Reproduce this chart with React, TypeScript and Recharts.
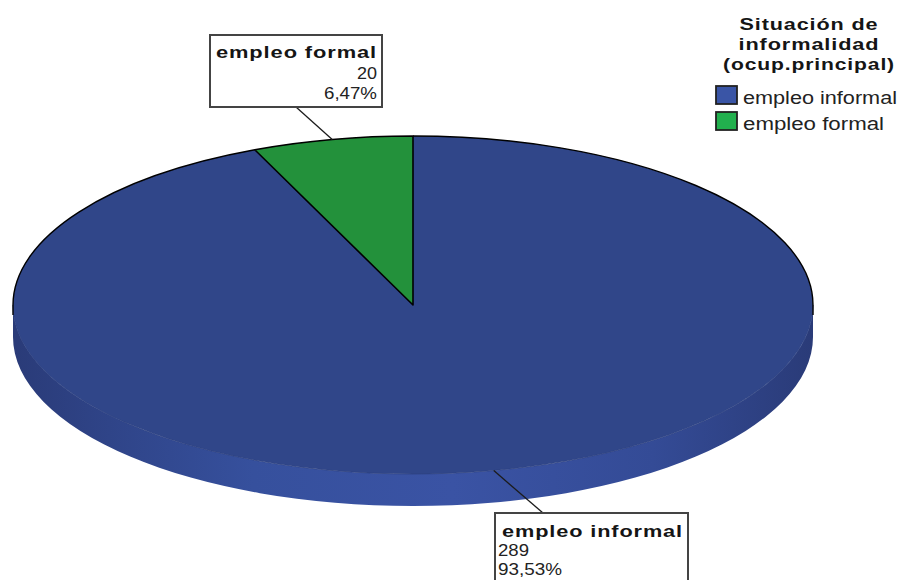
import { Legend, Pie, PieChart } from 'recharts';

const categories = ['empleo informal', 'empleo formal'];
const counts = [289, 20];
const percents = ['93,53%', '6,47%'];
const legendTitle = ['Situación de', 'informalidad', '(ocup.principal)'];

const topColors = ['#304689', '#23913b'];
const legendColors = ['#3a55a6', '#22b04e'];
const data = categories.map((name, i) => ({ name, value: counts[i] }));

const RY = 169;
const DEPTH = 32;
const RAD = Math.PI / 180;
const FONT = '"Liberation Sans", Arial, sans-serif';

// squashes the library's circular sector into the tilted ellipse
const pt = (cx: number, cy: number, r: number, a: number) => ({
  x: cx + r * Math.cos(-a * RAD),
  y: cy + RY * Math.sin(-a * RAD)
});

const SliceShape = (props: any) => {
  const { cx, cy, outerRadius: r, startAngle, endAngle, index } = props;
  const s = pt(cx, cy, r, startAngle);
  const e = pt(cx, cy, r, endAngle);
  const large = Math.abs(startAngle - endAngle) > 180 ? 1 : 0;
  const face = `M${cx},${cy} L${s.x},${s.y} A${r},${RY} 0 ${large} 1 ${e.x},${e.y} Z`;

  if (index === 1) {
    return <path d={face} fill={topColors[1]} stroke="#000" strokeWidth={1.6} strokeLinejoin="round" />;
  }
  const wall = `M${cx + r},${cy} A${r},${RY} 0 0 1 ${cx - r},${cy} L${cx - r},${cy + DEPTH} A${r},${RY} 0 0 0 ${cx + r},${cy + DEPTH} Z`;
  return (
    <g>
      <defs>
        <linearGradient id="wallGrad" x1="0" y1="0" x2="1" y2="0">
          <stop offset="0" stopColor="#2a3b78" />
          <stop offset="0.12" stopColor="#2f4488" />
          <stop offset="0.3" stopColor="#36509d" />
          <stop offset="0.55" stopColor="#3a53a4" />
          <stop offset="0.8" stopColor="#344b96" />
          <stop offset="1" stopColor="#2a3b78" />
        </linearGradient>
      </defs>
      <path d={wall} fill="url(#wallGrad)" />
      <path d={face} fill={topColors[0]} />
      <path d={`M${cx + r},${cy} A${r},${RY} 0 0 1 ${cx - r},${cy}`} fill="none" stroke="#2c4080" strokeWidth={0.8} />
      <path d={`M${cx - r},${cy + 10} L${cx - r},${cy} A${r},${RY} 0 0 1 ${e.x},${e.y}`} fill="none" stroke="#000" strokeWidth={1.4} />
      <path d={`M${s.x},${s.y} A${r},${RY} 0 0 1 ${cx + r},${cy} L${cx + r},${cy + 10}`} fill="none" stroke="#000" strokeWidth={1.4} />
    </g>
  );
};

const boxes = [
  { x: 495, y: 513, w: 193, h: 80, end: [543, 513], anchor: 'start', textX: 498, nameX: 502, base: [537, 556, 575], nameLen: 181, valueLen: 31, pctLen: 64 },
  { x: 210, y: 35, w: 172, h: 72, end: [296, 107], anchor: 'end', textX: 377, nameX: 377, base: [58, 79, 99], nameLen: 161, valueLen: 20, pctLen: 53 }
];

const SliceLabel = (props: any) => {
  const { cx, cy, outerRadius: r, midAngle, index, name, value } = props;
  const b = boxes[index];
  const p = pt(cx, cy, r, midAngle);
  return (
    <g fontFamily={FONT} fill="#151515">
      <line x1={p.x} y1={p.y} x2={b.end[0]} y2={b.end[1]} stroke="#1c1c1c" strokeWidth={1.3} />
      <rect x={b.x} y={b.y} width={b.w} height={b.h} fill="#fff" stroke="#444" strokeWidth={2} />
      <text x={b.nameX} y={b.base[0]} textAnchor={b.anchor} fontSize={17} fontWeight="bold" letterSpacing={0.7} textLength={b.nameLen} lengthAdjust="spacingAndGlyphs">
        {name}
      </text>
      <text x={b.textX} y={b.base[1]} textAnchor={b.anchor} fontSize={16.5} fill="#222" textLength={b.valueLen} lengthAdjust="spacingAndGlyphs">{value}</text>
      <text x={b.textX} y={b.base[2]} textAnchor={b.anchor} fontSize={16.5} fill="#222" textLength={b.pctLen} lengthAdjust="spacingAndGlyphs">{percents[index]}</text>
    </g>
  );
};

const titleLens = [139, 141, 172];
const legendLens = [154, 141];

const ChartLegend = () => (
  <svg width={204} height={135} style={{ display: 'block' }}>
    <g fontFamily={FONT} fill="#151515">
      {legendTitle.map((line, i) => (
        <text key={line} x={109} y={25 + i * 20} textAnchor="middle" fontSize={17} fontWeight="bold" letterSpacing={0.7} textLength={titleLens[i]} lengthAdjust="spacingAndGlyphs">
          {line}
        </text>
      ))}
      {categories.map((name, i) => (
        <g key={name}>
          <rect x={16} y={81 + i * 26} width={21} height={18} fill={legendColors[i]} stroke="#222" strokeWidth={1.8} />
          <text x={43} y={99 + i * 26} fontSize={17.5} textLength={legendLens[i]} lengthAdjust="spacingAndGlyphs" fill="#222">{name}</text>
        </g>
      ))}
    </g>
  </svg>
);

export default function App() {
  return (
    <div style={{ position: 'absolute', left: 0, top: 0, width: 904, height: 580, background: '#fff' }}>
      <PieChart width={904} height={580} margin={{ top: 0, right: 0, bottom: 0, left: 0 }}>
        <Legend
          content={<ChartLegend />}
          wrapperStyle={{ position: 'absolute', left: 700, top: 5, width: 204, height: 135 }}
        />
        <Pie
          data={data}
          dataKey="value"
          nameKey="name"
          cx={413}
          cy={305}
          innerRadius={0}
          outerRadius={400}
          startAngle={90}
          endAngle={-270}
          stroke="none"
          shape={SliceShape}
          label={SliceLabel}
          labelLine={false}
          isAnimationActive={false}
        />
      </PieChart>
    </div>
  );
}
